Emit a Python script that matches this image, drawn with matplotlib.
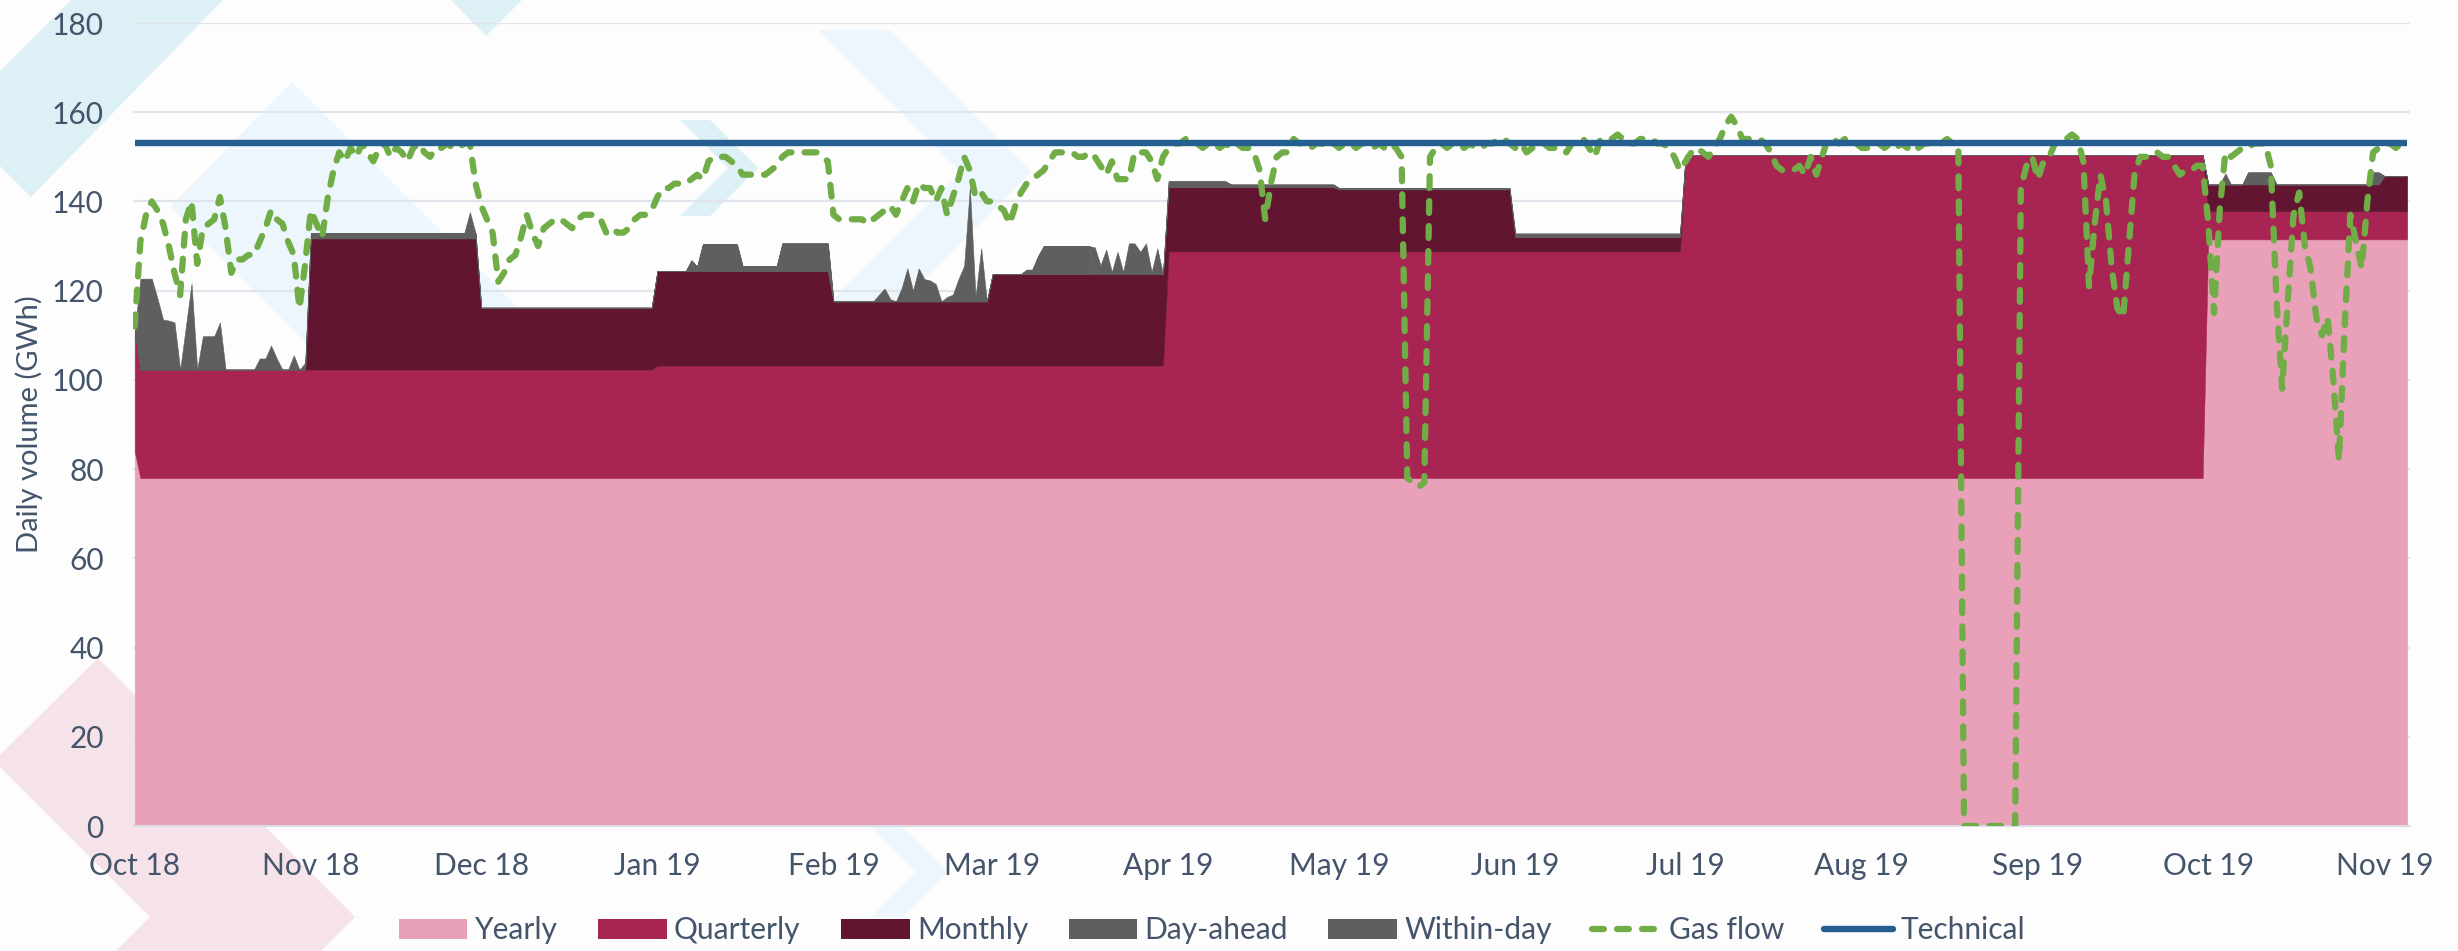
import numpy as np
import pandas as pd
import matplotlib
matplotlib.use("Agg")
import matplotlib.pyplot as plt
import matplotlib.dates as mdates
from matplotlib.patches import Polygon, Patch
from matplotlib.lines import Line2D

plt.rcParams['font.family'] = ['Lato', 'DejaVu Sans']

# ---------------- data (GWh per day) ----------------
first_day, last_day = "2018-10-01", "2019-11-05"

# (from, to, daily volume) of the longer-term products
yearly_periods = [
    ("2018-10-01", "2018-10-01", 84.0),
    ("2018-10-02", "2019-09-30", 78.0),
    ("2019-10-01", "2019-11-05", 131.5),
]
quarterly_periods = [
    ("2018-10-01", "2018-10-01", 27.0),
    ("2018-10-02", "2018-12-31", 24.3),
    ("2019-01-01", "2019-03-31", 25.2),
    ("2019-04-01", "2019-06-30", 50.8),
    ("2019-07-01", "2019-09-30", 72.4),
    ("2019-10-01", "2019-11-05", 6.3),
]
monthly_periods = [
    ("2018-11-01", "2018-11-30", 29.4),
    ("2018-12-01", "2018-12-31", 13.9),
    ("2019-01-01", "2019-01-31", 21.2),
    ("2019-02-01", "2019-02-28", 14.4),
    ("2019-03-01", "2019-03-31", 20.5),
    ("2019-04-01", "2019-04-30", 14.4),
    ("2019-05-01", "2019-05-31", 13.9),
    ("2019-06-01", "2019-06-30", 3.2),
    ("2019-10-01", "2019-10-31", 6.0),
    ("2019-11-01", "2019-11-05", 7.9),
]

# daily values, one list per month (Oct 18 ... Nov 19)
day_ahead_by_month = [
    [0.0] * 31,
    [1.2] * 30,
    [0.0] * 31,
    [0, 0, 0, 0, 0, 0, 2.4, 1.0, 6.0, 6.0, 6.0, 6.0, 6.0, 6.0, 6.0, 1.1, 1.1,
     1.1, 1.1, 1.1, 1.1, 1.1, 6.2, 6.2, 6.2, 6.2, 6.2, 6.2, 6.2, 6.2, 6.2],
    [0.0] * 28,
    [0, 0, 0, 0, 0, 0, 1.0, 1.0, 4.0, 6.3, 6.3, 6.3, 6.3, 6.3, 6.3, 6.3, 6.3,
     6.3, 0, 0, 0, 0, 0, 0, 0, 0, 0, 0, 0, 0, 0],
    [1.3] * 11 + [0.6] * 19,
    [0.3] * 31,
    [0.8] * 30,
    [0.0] * 31,
    [0.0] * 31,
    [0.0] * 30,
    [0, 0, 0, 0, 0, 0, 0, 2.7, 2.7, 2.7, 2.7, 2.7, 0, 0, 0, 0, 0, 0, 0, 0, 0,
     0, 0, 0, 0, 0, 0, 0, 0, 2.7, 2.7],
    [0.0] * 5,
]
within_day_by_month = [
    [0, 20.4, 20.4, 20.4, 16.0, 11.2, 11.0, 10.6, 0, 9.6, 19.3, 0, 7.5, 7.5,
     7.5, 10.6, 0, 0, 0, 0, 0, 0, 2.5, 2.5, 5.4, 2.5, 0, 0, 3.2, 0, 1.5],
    [0.0] * 28 + [4.7, 0.0],
    [0.0] * 31,
    [0.0] * 31,
    [0.0] * 8 + [1.5, 2.9, 0.5, 0, 3.0, 7.4, 2.4, 7.4, 5.0, 4.7, 3.9, 0, 1.0,
                 1.5, 5.0, 8.0, 25.6, 1.0, 11.9, 0],
    [0.0] * 18 + [6.0, 2.0, 5.5, 0.5, 5.0, 0.5, 6.9, 6.9, 5.0, 6.9, 0.5, 5.8, 0],
    [0.0] * 30,
    [0.0] * 31,
    [0.0] * 30,
    [0.0] * 31,
    [0.0] * 31,
    [0.0] * 30,
    [0, 0, 0, 2.5] + [0.0] * 27,
    [0.0] * 5,
]
gas_flow_by_month = [
    [112, 131, 137, 140, 138, 135, 130, 124, 119, 136, 140, 126, 134, 135, 136,
     141, 134, 124, 127, 127, 128, 128, 131, 134, 138, 136, 135, 131, 128, 116, 126],
    [138, 135, 132, 141, 147, 151, 149, 152, 150, 153, 151, 149, 152, 153, 150,
     152, 151, 149, 152, 153, 151, 150, 152, 152, 153, 152, 152, 153, 153, 144],
    [139, 136, 133, 122, 124, 127, 128, 132, 137, 133, 130, 134, 135, 136, 136,
     135, 134, 136, 137, 137, 137, 136, 133, 134, 133, 133, 134, 136, 137, 137, 138],
    [141, 143, 143, 144, 144, 144, 145, 146, 145, 149, 150, 150, 150, 149, 148,
     146, 146, 146, 146, 146, 147, 148, 150, 151, 151, 151, 151, 151, 151, 150, 149],
    [137, 136, 136, 136, 136, 136, 135, 136, 137, 138, 139, 137, 140, 143, 140,
     144, 143, 143, 140, 143, 137, 141, 145, 150, 147, 141, 142, 140],
    [140, 139, 138, 135, 139, 142, 144, 145, 146, 147, 149, 151, 151, 151, 151,
     150, 150, 151, 150, 148, 146, 149, 145, 145, 145, 151, 151, 151, 149, 145, 150],
    [152, 153, 153, 154, 153, 153, 152, 153, 153, 152, 153, 152, 153, 152, 152,
     151, 147, 136, 144, 150, 151, 151, 154, 153, 153, 152, 153, 153, 152, 153],
    [152, 153, 153, 152, 153, 153, 152, 153, 152, 153, 152, 150, 78, 77, 76,
     77, 150, 152, 153, 152, 153, 153, 152, 153, 152, 152, 153, 153, 154, 154, 153],
    [152, 153, 151, 152, 153, 153, 152, 152, 152, 151, 153, 154, 154, 152, 150,
     154, 154, 154, 155, 154, 153, 153, 154, 154, 154, 153, 153, 152, 150, 147],
    [149, 151, 152, 151, 150, 152, 154, 157, 159, 157, 154, 154, 154, 154, 153,
     151, 148, 147, 147, 147, 148, 146, 150, 146, 150, 154, 154, 153, 154, 153, 153],
    [152, 152, 153, 153, 152, 153, 152, 153, 152, 153, 152, 153, 153, 153, 153,
     154, 153, 152, 0, 0, 0, 0, 0, 0, 0, 0, 0, 0, 143, 148, 150],
    [145, 149, 150, 153, 154, 154, 155, 154, 149, 121, 135, 146, 140, 125, 116,
     114, 130, 146, 150, 150, 150, 151, 150, 150, 148, 146, 147, 147, 148, 148],
    [135, 115, 138, 151, 150, 151, 152, 152, 153, 153, 153, 148, 118, 98, 118,
     137, 142, 130, 125, 114, 110, 114, 100, 82, 112, 137, 131, 125, 140, 151, 152],
    [153, 153, 152, 153, 153],
]
technical_capacity = 153.0

series_names = ["Yearly", "Quarterly", "Monthly", "Day-ahead", "Within-day"]
series_colors = ["#e9a1ba", "#a82452", "#611530", "#5f5f5f", "#5f5f5f"]
flow_color, tech_color = "#70ad47", "#255e91"
text_color = "#44546a"

# ---------------- build daily series ----------------
dates = pd.date_range(first_day, last_day, freq="D")


def per_day(periods):
    s = pd.Series(0.0, index=dates)
    for a, b, v in periods:
        s[a:b] = v
    return s.values


yearly = per_day(yearly_periods)
quarterly = per_day(quarterly_periods)
monthly = per_day(monthly_periods)
day_ahead = np.concatenate([np.array(m, float) for m in day_ahead_by_month])
within_day = np.concatenate([np.array(m, float) for m in within_day_by_month])
gas_flow = np.concatenate([np.array(m, float) for m in gas_flow_by_month])
technical = np.full(len(dates), technical_capacity)

x = mdates.date2num(dates.to_pydatetime())

# ---------------- figure ----------------
W, H = 2458, 951
fig = plt.figure(figsize=(W / 100, H / 100), dpi=100, facecolor="#fdfdfd")


# faint template chevrons behind the chart (pixel coordinates)
def backdrop(points, color):
    xy = [(px / W, 1 - py / H) for px, py in points]
    fig.add_artist(Polygon(xy, closed=True, transform=fig.transFigure,
                           facecolor=color, edgecolor="none", zorder=-5))


def chevron(tip_x, mid_y, half, thick):
    return [(tip_x - half, mid_y - half), (tip_x, mid_y), (tip_x - half, mid_y + half),
            (tip_x - half - thick, mid_y + half), (tip_x - thick, mid_y),
            (tip_x - half - thick, mid_y - half)]


backdrop([(71, 0), (223, 0), (31, 197), (0, 166), (0, 71)], "#dcf0f5")
backdrop([(292, 82), (640, 430), (518, 555), (170, 207)], "#eef6fd")
backdrop([(451, 0), (522, 0), (486, 36)], "#dcf0f5")
backdrop(chevron(1031, 172, 142, 70), "#eef6fd")
backdrop(chevron(758, 168, 48, 30), "#dcf0f5")
backdrop(chevron(947, 872, 45, 30), "#eef6fd")
backdrop([(0, 755), (98, 658), (355, 917), (321, 951), (116, 951), (150, 917), (0, 767)],
         "#f5e3e9")

ax = fig.add_axes([133 / W, 1 - 826 / H, (2410 - 133) / W, (826 - 23) / H])
ax.set_facecolor("none")

ax.stackplot(x, yearly, quarterly, monthly, day_ahead, within_day,
             colors=series_colors, labels=series_names,
             edgecolor="face", linewidth=0.4, zorder=2)
flow_style = dict(color=flow_color, lw=4.5, linestyle=(0, (1.9, 2.1)),
                  dash_capstyle="round")
ax.plot(x, gas_flow, zorder=3, label="Gas flow", **flow_style)
ax.plot(x, technical, color=tech_color, lw=4.6, solid_capstyle="butt",
        zorder=4, label="Technical")

ax.set_ylim(0, 180)
ax.set_yticks(np.arange(0, 181, 20))
ax.set_xlim(x[0] - 0.3, x[-1] + 0.5)
ax.xaxis.set_major_locator(mdates.MonthLocator(bymonthday=1))
ax.xaxis.set_major_formatter(mdates.DateFormatter("%b %y"))

ax.grid(axis="y", color="#e1e5eb", lw=1.6, zorder=0)
ax.set_axisbelow(True)
for side in ["top", "right", "left"]:
    ax.spines[side].set_visible(False)
ax.spines["bottom"].set_color("#d9dee6")
ax.spines["bottom"].set_linewidth(1.4)
ax.tick_params(axis="both", length=0, labelsize=21.5, labelcolor=text_color)
ax.tick_params(axis="y", pad=21)
ax.tick_params(axis="x", pad=19)
ax.set_ylabel("Daily volume (GWh)", fontsize=21, color=text_color, labelpad=6)

handles = [Patch(facecolor=c, edgecolor="none") for c in series_colors]
handles += [Line2D([], [], **flow_style),
            Line2D([], [], color=tech_color, lw=4.6, solid_capstyle="round")]
labels = series_names + ["Gas flow", "Technical"]
fig.legend(handles, labels, loc="center", bbox_to_anchor=(0.493, 0.022), ncol=7,
           frameon=False, fontsize=21.5, labelcolor=text_color,
           handlelength=2.3, handleheight=0.65, handletextpad=0.25,
           columnspacing=1.35)

fig.savefig("out.png", dpi=100, facecolor=fig.get_facecolor())
